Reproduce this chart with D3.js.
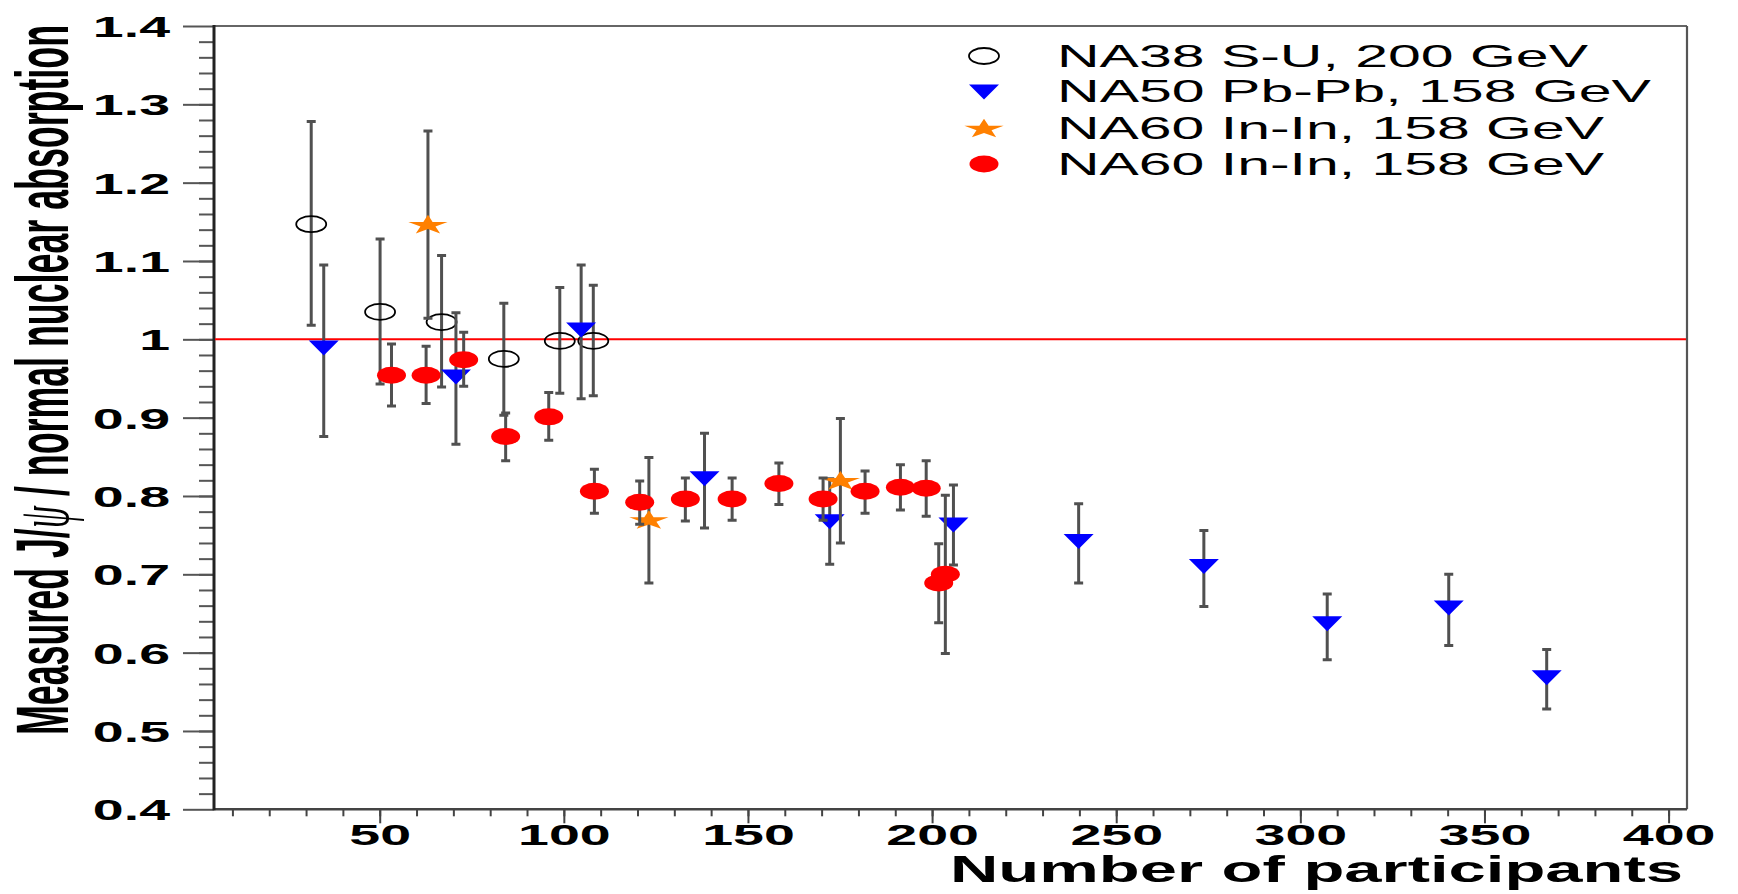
<!DOCTYPE html>
<html><head><meta charset="utf-8">
<script src="https://cdn.jsdelivr.net/npm/d3@7"></script>
<style>body{margin:0;background:#fff}svg{display:block}</style>
</head><body><svg id="c" width="1738" height="894"></svg>
<script>
// ---------------- data ----------------
const na38X  = [31.4, 50.1, 66.8, 83.7, 98.9, 108.0];
const na38Y  = [1.147, 1.035, 1.022, 0.975, 0.998, 0.998];
const na38Hi = [1.278, 1.128, 1.107, 1.046, 1.066, 1.069];
const na38Lo = [1.018, 0.943, 0.939, 0.903, 0.931, 0.928];

const na50X  = [34.8, 70.7, 104.7, 138.2, 172.2, 205.8, 239.8, 273.8, 307.3, 340.3, 366.9];
const na50Y  = [0.989, 0.952, 1.012, 0.822, 0.767, 0.763, 0.742, 0.710, 0.637, 0.657, 0.568];
const na50Hi = [1.095, 1.034, 1.095, 0.880, 0.822, 0.814, 0.790, 0.756, 0.675, 0.700, 0.604];
const na50Lo = [0.876, 0.866, 0.924, 0.759, 0.713, 0.712, 0.689, 0.659, 0.591, 0.609, 0.528];

const starX  = [63.1, 123.1, 175.1];
const starY  = [1.147, 0.770, 0.820];
const starHi = [1.266, 0.849, 0.899];
const starLo = [1.027, 0.689, 0.740];

const inX  = [53.2, 62.6, 72.8, 84.2, 95.9, 108.3, 120.6, 133.0, 145.7, 158.4, 170.4, 181.8, 191.4, 198.4, 201.8, 203.6];
const inY  = [0.954, 0.954, 0.974, 0.876, 0.901, 0.806, 0.792, 0.796, 0.796, 0.816, 0.796, 0.806, 0.811, 0.810, 0.689, 0.700];
const inHi = [0.994, 0.991, 1.009, 0.906, 0.932, 0.834, 0.819, 0.823, 0.823, 0.842, 0.823, 0.832, 0.840, 0.845, 0.739, 0.801];
const inLo = [0.915, 0.918, 0.940, 0.845, 0.871, 0.778, 0.764, 0.768, 0.769, 0.789, 0.769, 0.778, 0.782, 0.774, 0.638, 0.599];

const legendLabels = ["NA38 S-U, 200 GeV", "NA50 Pb-Pb, 158 GeV", "NA60 In-In, 158 GeV", "NA60 In-In, 158 GeV"];
const yTickValues = [0.4, 0.5, 0.6, 0.7, 0.8, 0.9, 1.0, 1.1, 1.2, 1.3, 1.4];
const yTickLabels = ["0.4", "0.5", "0.6", "0.7", "0.8", "0.9", "1", "1.1", "1.2", "1.3", "1.4"];
const xTickValues = [50, 100, 150, 200, 250, 300, 350, 400];
const xTickLabels = ["50", "100", "150", "200", "250", "300", "350", "400"];
const xTitle = "Number of participants";
const refLine = 1.0;

// ---------------- layout ----------------
const L = 214, R = 1687, T = 26, B = 809.3;
const SX = 1.85;               // horizontal stretch of the original figure
const FONT = "'Liberation Sans', Arial, Helvetica, sans-serif";
const ERR = "#505050";

const svg = d3.select("#c");
const x = d3.scaleLinear().domain([5, 405]).range([L, R]);
const y = d3.scaleLinear().domain([0.4, 1.4]).range([B, T]);

// ---------------- axes ----------------
const gyMinor = svg.append("g").attr("transform", `translate(${L},0)`)
  .call(d3.axisLeft(y).tickValues(d3.range(0.42, 1.4, 0.02)).tickSize(15).tickSizeOuter(0).tickFormat(""));
const gyMajor = svg.append("g").attr("transform", `translate(${L},0)`)
  .call(d3.axisLeft(y).tickValues(yTickValues).tickSize(31).tickSizeOuter(0)
    .tickFormat((d, i) => yTickLabels[i]));
[gyMinor, gyMajor].forEach(g => {
  g.select(".domain").remove();
  g.selectAll(".tick line").attr("stroke", "#555").attr("stroke-width", 2);
});
gyMajor.selectAll(".tick text")
  .attr("x", null).attr("dy", null)
  .attr("transform", "translate(-44,10.5) scale(" + SX + ",1)")
  .attr("text-anchor", "end")
  .style("font-family", FONT).style("font-weight", "bold").style("font-size", "30px").attr("fill", "#000");

const gxMinor = svg.append("g").attr("transform", `translate(0,${B})`)
  .call(d3.axisBottom(x).tickValues(d3.range(10, 401, 10)).tickSize(7).tickSizeOuter(0).tickFormat(""));
const gxMajor = svg.append("g").attr("transform", `translate(0,${B})`)
  .call(d3.axisBottom(x).tickValues(xTickValues).tickSize(14).tickSizeOuter(0)
    .tickFormat((d, i) => xTickLabels[i]));
[gxMinor, gxMajor].forEach(g => {
  g.select(".domain").remove();
  g.selectAll(".tick line").attr("stroke", "#444").attr("stroke-width", 2);
});
gxMajor.selectAll(".tick text")
  .attr("y", null).attr("dy", null)
  .attr("transform", "translate(0,36) scale(" + SX + ",1)")
  .attr("text-anchor", "middle")
  .style("font-family", FONT).style("font-weight", "bold").style("font-size", "30px").attr("fill", "#000");

// frame
svg.append("line").attr("x1", L).attr("x2", R).attr("y1", T).attr("y2", T).attr("stroke", "#666").attr("stroke-width", 1.8);
svg.append("line").attr("x1", R).attr("x2", R).attr("y1", T).attr("y2", B).attr("stroke", "#555").attr("stroke-width", 2.2);
svg.append("line").attr("x1", L).attr("x2", R).attr("y1", B).attr("y2", B).attr("stroke", "#444").attr("stroke-width", 2.4);
svg.append("line").attr("x1", L).attr("x2", L).attr("y1", T - 1).attr("y2", B + 1).attr("stroke", "#222").attr("stroke-width", 3);

// reference line at 1
svg.append("line").attr("x1", x.range()[0] + 1).attr("x2", x.range()[1] - 1)
  .attr("y1", y(refLine)).attr("y2", y(refLine)).attr("stroke", "#ff0000").attr("stroke-width", 2);

// ---------------- titles ----------------
svg.append("text").text(xTitle)
  .attr("x", 950).attr("y", 882).attr("textLength", 733).attr("lengthAdjust", "spacingAndGlyphs")
  .style("font-family", FONT).style("font-weight", "bold").style("font-size", "37px");

const yt = svg.append("text")
  .attr("transform", "translate(68,735) scale(2.05,1) rotate(-90)")
  .attr("textLength", 710).attr("lengthAdjust", "spacingAndGlyphs")
  .style("font-family", FONT).style("font-weight", "bold").style("font-size", "36px");
yt.append("tspan").text("Measured J/");
yt.append("tspan").text("\u03C8").style("font-family", "'Liberation Serif', 'DejaVu Serif', serif").style("font-weight", "normal").style("font-style", "italic");
yt.append("tspan").text(" / normal nuclear absorption");

// ---------------- marks ----------------
function zip(xs, ys, hi, lo) { return xs.map((v, i) => ({x: v, y: ys[i], hi: hi[i], lo: lo[i]})); }
const sNA38 = zip(na38X, na38Y, na38Hi, na38Lo);
const sNA50 = zip(na50X, na50Y, na50Hi, na50Lo);
const sStar = zip(starX, starY, starHi, starLo);
const sIn   = zip(inX, inY, inHi, inLo);

function errorBars(data) {
  const g = svg.append("g").attr("stroke", ERR).attr("stroke-width", 3).attr("fill", "none");
  g.selectAll("path").data(data).join("path")
    .attr("d", d => {
      const px = x(d.x), ph = y(d.hi), pl = y(d.lo);
      return `M${px},${ph}V${pl}M${px - 4.5},${ph}H${px + 4.5}M${px - 4.5},${pl}H${px + 4.5}`;
    });
}
const triPath = (w, h) => `M${-w / 2},${-h / 2}L${w / 2},${-h / 2}L0,${h / 2}Z`;
const starSym = d3.symbol(d3.symbolStar).size(120)();

function drawSeries(data, kind) {
  errorBars(data);
  const g = svg.append("g");
  const sel = g.selectAll(".m").data(data).join(kind === "circle" || kind === "dot" ? "ellipse" : "path")
    .attr("class", "m");
  styleMarker(sel, kind, d => x(d.x), d => y(d.y));
}
function styleMarker(sel, kind, fx, fy) {
  if (kind === "circle") {
    sel.attr("cx", fx).attr("cy", fy).attr("rx", 15).attr("ry", 8)
      .attr("fill", "none").attr("stroke", "#000").attr("stroke-width", 1.8);
  } else if (kind === "dot") {
    sel.attr("cx", fx).attr("cy", fy).attr("rx", 14.5).attr("ry", 8.5).attr("fill", "#ff0000");
  } else if (kind === "tri") {
    sel.attr("d", triPath(30, 15)).attr("transform", (d, i) => `translate(${fx(d, i)},${fy(d, i)})`).attr("fill", "#0000ff");
  } else if (kind === "star") {
    sel.attr("d", starSym).attr("transform", (d, i) => `translate(${fx(d, i)},${fy(d, i) + 1}) scale(2,1)`).attr("fill", "#ff8000");
  }
}

drawSeries(sNA38, "circle");
drawSeries(sNA50, "tri");
drawSeries(sStar, "star");
drawSeries(sIn, "dot");

// ---------------- legend ----------------
const legKinds = ["circle", "tri", "star", "dot"];
const legMarkerY = [56, 92, 128, 164];
const legBase = [67, 102, 139, 175];
const legLen = [531, 594, 547, 547];
const lg = svg.append("g");
legKinds.forEach((k, i) => {
  const m = lg.append(k === "circle" || k === "dot" ? "ellipse" : "path").datum(i);
  styleMarker(m, k, () => 984, () => legMarkerY[i]);
  lg.append("text").text(legendLabels[i])
    .attr("x", 1057).attr("y", legBase[i])
    .attr("textLength", legLen[i]).attr("lengthAdjust", "spacingAndGlyphs")
    .style("font-family", FONT).style("font-size", "32px").attr("fill", "#000");
});
</script></body></html>
